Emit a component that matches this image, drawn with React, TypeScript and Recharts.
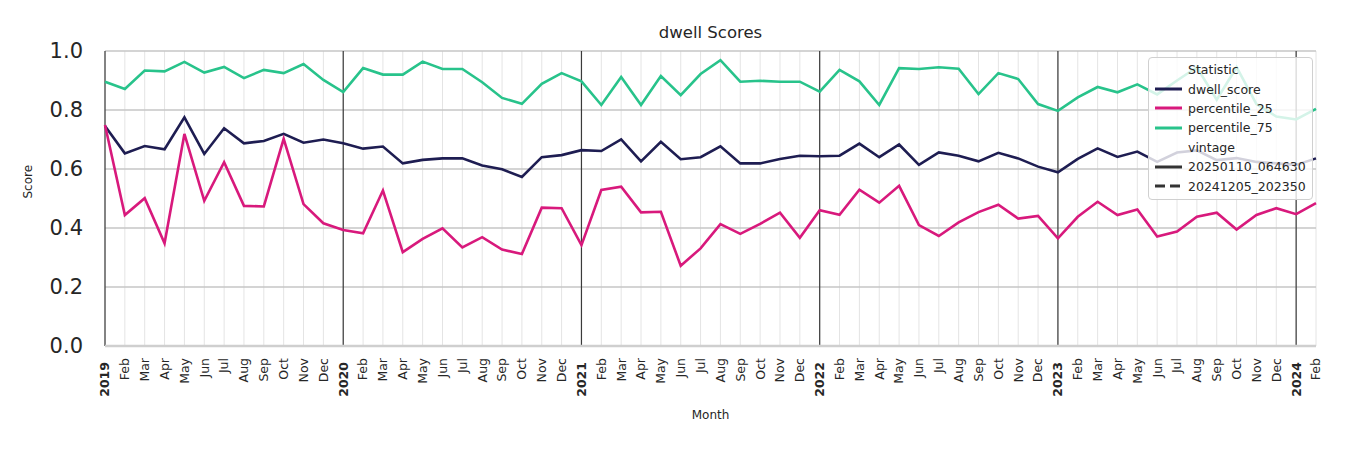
import React from 'react';
import {
  CartesianGrid,
  Legend,
  Line,
  LineChart,
  ReferenceLine,
  XAxis,
  YAxis,
} from 'recharts';

const years = ['2019', '2020', '2021', '2022', '2023', '2024'];
const monthNames = ['Jan', 'Feb', 'Mar', 'Apr', 'May', 'Jun', 'Jul', 'Aug', 'Sep', 'Oct', 'Nov', 'Dec'];

// Jan 2019 .. Feb 2024
const monthKeys: string[] = [];
years.forEach((y) => {
  monthNames.forEach((_, m) => {
    if (y === '2024' && m > 1) return;
    monthKeys.push(`${y}-${String(m + 1).padStart(2, '0')}`);
  });
});

const dwellScore = [
  0.746, 0.653, 0.678, 0.667, 0.775, 0.651, 0.738, 0.687, 0.695, 0.719, 0.689, 0.7,
  0.687, 0.669, 0.676, 0.619, 0.631, 0.636, 0.636, 0.612, 0.599, 0.573, 0.64, 0.647,
  0.664, 0.661, 0.7, 0.626, 0.692, 0.633, 0.64, 0.677, 0.619, 0.619, 0.634, 0.645,
  0.643, 0.645, 0.686, 0.64, 0.683, 0.614, 0.656, 0.645, 0.626, 0.655, 0.636, 0.608,
  0.589, 0.634, 0.67, 0.641, 0.659, 0.624, 0.656, 0.663, 0.63, 0.637, 0.624, 0.619,
  0.614, 0.636,
];

const percentile25 = [
  0.749, 0.444, 0.501, 0.348, 0.719, 0.492, 0.623, 0.475, 0.473, 0.702, 0.481, 0.416,
  0.393, 0.382, 0.527, 0.318, 0.363, 0.399, 0.334, 0.369, 0.327, 0.312, 0.469, 0.467,
  0.342, 0.529, 0.54, 0.453, 0.455, 0.272, 0.331, 0.413, 0.38, 0.414, 0.452, 0.367,
  0.46, 0.445, 0.53, 0.486, 0.543, 0.41, 0.373, 0.419, 0.454, 0.479, 0.432, 0.441,
  0.365, 0.438, 0.489, 0.444, 0.463, 0.371, 0.388, 0.438, 0.452, 0.395, 0.444, 0.467,
  0.447, 0.484,
];

const percentile75 = [
  0.896, 0.871, 0.934, 0.931, 0.963, 0.927, 0.946, 0.908, 0.936, 0.925, 0.956, 0.902,
  0.861, 0.942, 0.92, 0.92, 0.964, 0.939, 0.939, 0.894, 0.841, 0.821, 0.889, 0.925,
  0.897, 0.817, 0.912, 0.817, 0.915, 0.85, 0.922, 0.969, 0.896, 0.899, 0.896, 0.896,
  0.862, 0.936, 0.897, 0.817, 0.942, 0.939, 0.945, 0.94, 0.854, 0.925, 0.905, 0.82,
  0.797, 0.843, 0.878, 0.86, 0.887, 0.853, 0.9, 0.945, 0.835, 0.945, 0.82, 0.778,
  0.768, 0.804,
];

const yTicks = [0, 0.2, 0.4, 0.6, 0.8, 1.0];

const NAVY = '#1e1d52';
const PINK = '#d8197c';
const GREEN = '#28c38b';
const FONT = '"DejaVu Sans", sans-serif';

const data = monthKeys.map((key, i) => ({
  key,
  dwell_score: dwellScore[i],
  percentile_25: percentile25[i],
  percentile_75: percentile75[i],
}));

const tickLabel = (key: string) => {
  const [y, m] = key.split('-');
  return m === '01' ? y : monthNames[Number(m) - 1];
};

const MonthTick = (props: any) => {
  const { x, y, payload } = props;
  const isYear = payload.value.endsWith('-01');
  return (
    <text
      transform={`translate(${x},${y + (isYear ? 4 : 0)}) rotate(-90)`}
      textAnchor="end"
      dy="0.35em"
      fontSize={12.5}
      fontWeight={isYear ? 'bold' : 'normal'}
      fill="#262626"
      fontFamily={FONT}
    >
      {tickLabel(payload.value)}
    </text>
  );
};

const legendRows = [
  { label: 'Statistic' },
  { label: 'dwell_score', color: NAVY },
  { label: 'percentile_25', color: PINK },
  { label: 'percentile_75', color: GREEN },
  { label: 'vintage' },
  { label: '20250110_064630', color: '#333333' },
  { label: '20241205_202350', color: '#333333', dashed: true },
];

const LegendBox = () => (
  <div
    style={{
      background: 'rgba(255,255,255,0.8)',
      border: '1.5px solid #d0d0d0',
      borderRadius: 4,
      padding: '2px 6px 3px 5px',
      fontFamily: FONT,
      fontSize: 12.5,
      color: '#262626',
    }}
  >
    {legendRows.map((r) => (
      <div key={r.label} style={{ display: 'flex', alignItems: 'center', height: 19.4 }}>
        <svg width={34} height={10} style={{ flex: 'none' }}>
          {r.color && (
            <line
              x1={1}
              x2={28}
              y1={5}
              y2={5}
              stroke={r.color}
              strokeWidth={3}
              strokeDasharray={r.dashed ? '10 5' : undefined}
            />
          )}
        </svg>
        <span>{r.label}</span>
      </div>
    ))}
  </div>
);

export default function App() {
  return (
    <div style={{ position: 'absolute', left: 0, top: 0, width: 1350, height: 450, background: '#fff', fontFamily: FONT }}>
      <div
        style={{
          position: 'absolute',
          left: 105,
          width: 1211,
          top: 23,
          textAlign: 'center',
          fontSize: 16.5,
          color: '#262626',
        }}
      >
        dwell Scores
      </div>
      <LineChart width={1350} height={450} data={data} margin={{ top: 51, right: 34, left: 0, bottom: 0 }}>
        <CartesianGrid horizontal={false} stroke="#e4e4e4" strokeWidth={1} />
        <CartesianGrid vertical={false} stroke="#c6c6c6" strokeWidth={1.4} />
        <XAxis
          dataKey="key"
          interval={0}
          height={104}
          tick={<MonthTick />}
          tickSize={0}
          tickMargin={12}
          tickLine={false}
          axisLine={{ stroke: '#cfcfcf', strokeWidth: 2.5 }}
          label={{ value: 'Month', position: 'insideBottom', offset: 31, fontSize: 12, fill: '#262626', fontFamily: FONT }}
        />
        <YAxis
          width={105}
          domain={[0, 1]}
          ticks={yTicks}
          tickFormatter={(v: number) => v.toFixed(1)}
          tick={{ fontSize: 21, fill: '#262626', fontFamily: FONT }}
          tickSize={0}
          tickMargin={22}
          axisLine={false}
          tickLine={false}
          label={{ value: 'Score', angle: -90, position: 'insideLeft', offset: 28, fontSize: 12, fill: '#262626', fontFamily: FONT }}
        />
        {years.map((y) => (
          <ReferenceLine key={y} x={`${y}-01`} stroke="#3a3a3a" strokeWidth={1.2} />
        ))}
        <Line dataKey="dwell_score" stroke={NAVY} strokeWidth={2.6} dot={false} isAnimationActive={false} />
        <Line dataKey="percentile_25" stroke={PINK} strokeWidth={2.6} dot={false} isAnimationActive={false} />
        <Line dataKey="percentile_75" stroke={GREEN} strokeWidth={2.6} dot={false} isAnimationActive={false} />
        <Legend
          layout="vertical"
          align="center"
          verticalAlign="middle"
          content={<LegendBox />}
          wrapperStyle={{ left: 1148, top: 57, width: 'auto' }}
        />
      </LineChart>
    </div>
  );
}
